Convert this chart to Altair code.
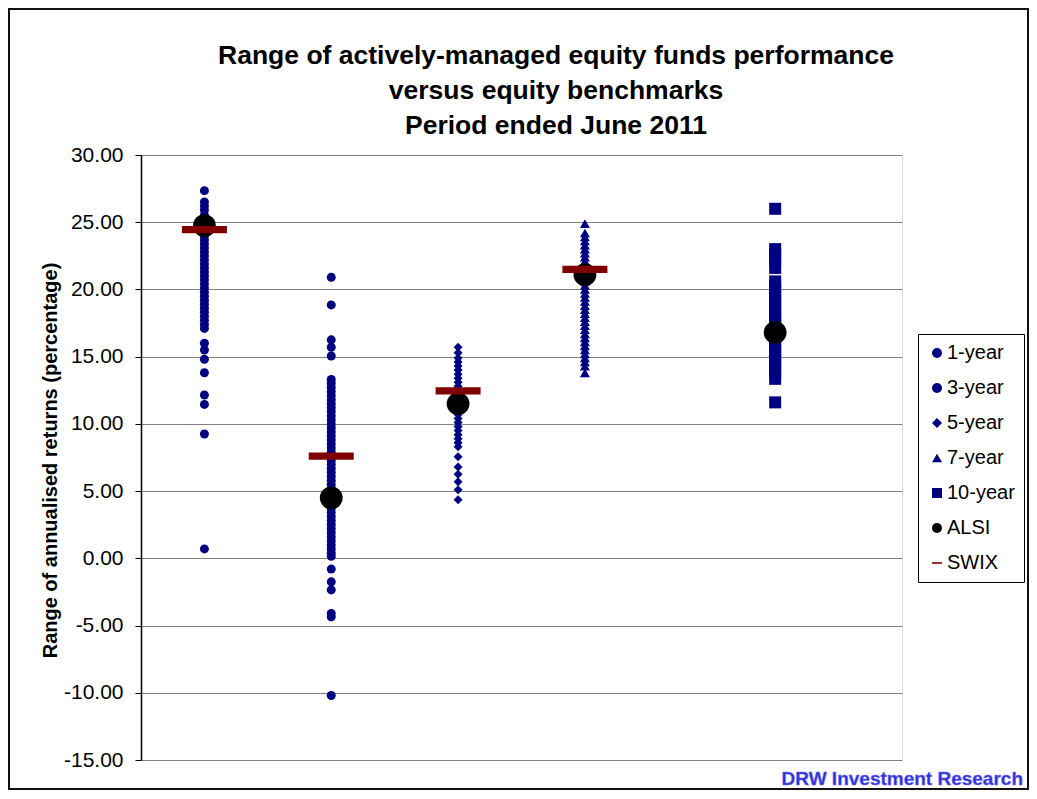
import altair as alt
import pandas as pd

# ---- data ----
series_names = ["1-year", "3-year", "5-year", "7-year", "10-year"]
x_positions = [1, 2, 3, 4, 5.5]

one_year = [27.35, 26.5, 26.2, 25.9, 25.5, 25.2, 24.9, 24.6, 24.3, 24.0, 23.7, 23.4,
            23.1, 22.8, 22.5, 22.2, 21.9, 21.6, 21.3, 21.0, 20.7, 20.4, 20.1, 19.8,
            19.5, 19.2, 18.9, 18.6, 18.3, 18.0, 17.7, 17.4, 17.1, 16.0, 15.5, 14.8,
            13.8, 12.15, 11.45, 9.25, 0.7]
three_year = [20.9, 18.85, 16.25, 15.7, 15.05, 13.3, 13.0, 12.7, 12.4, 12.1, 11.8,
              11.5, 11.2, 10.9, 10.6, 10.3, 10.0, 9.7, 9.4, 9.1, 8.8, 8.5, 8.2, 7.9,
              7.6, 7.3, 7.0, 6.7, 6.4, 6.1, 5.8, 5.5, 5.2, 4.9, 4.6, 4.3, 4.0, 3.7,
              3.4, 3.1, 2.8, 2.5, 2.2, 1.9, 1.6, 1.3, 1.0, 0.7, 0.4, 0.15, -0.8,
              -1.75, -2.35, -4.1, -4.35, -10.2]
five_year = [15.7, 15.3, 14.9, 14.6, 14.3, 14.0, 13.7, 13.4, 13.1, 12.8, 12.5, 12.2,
             11.9, 11.6, 11.3, 11.0, 10.7, 10.4, 10.1, 9.8, 9.5, 9.2, 8.9, 8.6, 8.3,
             7.55, 6.8, 6.25, 5.7, 5.1, 4.35]
seven_year = [24.9, 24.2, 23.9, 23.6, 23.3, 23.0, 22.7, 22.4, 22.1, 21.8, 21.5, 21.2,
              20.9, 20.6, 20.3, 20.0, 19.7, 19.4, 19.1, 18.8, 18.5, 18.2, 17.9, 17.6,
              17.3, 17.0, 16.7, 16.4, 16.1, 15.8, 15.5, 15.2, 14.9, 14.6, 14.3, 13.8]
ten_year = [26.0, 23.0, 22.6, 22.2, 21.6, 20.6, 20.2, 19.8, 19.4, 19.0, 18.6, 18.2,
            17.8, 17.4, 17.0, 16.6, 16.2, 15.8, 15.4, 15.0, 14.6, 14.2, 13.8, 13.35,
            11.6]

alsi = [24.75, 4.5, 11.5, 21.1, 16.8]      # one per period
swix = [24.45, 7.6, 12.45, 21.5]           # no 10-year value

legend_order = series_names + ["ALSI", "SWIX"]
marker_sizes = {"1-year": 81, "3-year": 81, "5-year": 81, "7-year": 100,
                "10-year": 144, "ALSI": 520, "SWIX": 2025}

# ---- table ----
rows = []
for name, xp, vals in zip(series_names, x_positions,
                          [one_year, three_year, five_year, seven_year, ten_year]):
    rows += [{"series": name, "x": xp, "value": v} for v in vals]
rows += [{"series": "ALSI", "x": xp, "value": v} for xp, v in zip(x_positions, alsi)]
rows += [{"series": "SWIX", "x": xp, "value": v} for xp, v in zip(x_positions, swix)]
df = pd.DataFrame(rows)
df["sz"] = df["series"].map(marker_sizes)

FONT = "Liberation Sans"
NAVY = "#000080"

shape_scale = alt.Scale(domain=legend_order,
                        range=["circle", "circle", "diamond", "triangle-up", "square",
                               "circle", "M-1,-0.16H1V0.16H-1Z"])
color_scale = alt.Scale(domain=legend_order,
                        range=[NAVY, NAVY, NAVY, NAVY, NAVY, "#000000", "#800000"])

legend = alt.Legend(
    title=None, orient="none", legendX=777, legendY=179,
    labelFont=FONT, labelFontSize=20, labelColor="black", labelOffset=0,
    strokeColor="black", fillColor="white", padding=9, rowPadding=15,
    symbolSize=100, symbolStrokeWidth=0,
)

points = alt.Chart(df).mark_point(filled=True, opacity=1, strokeWidth=0).encode(
    x=alt.X("x:Q", scale=alt.Scale(domain=[0.5, 6.5], nice=False, zero=False), axis=None),
    y=alt.Y("value:Q", scale=alt.Scale(domain=[-15, 30], nice=False, zero=False),
            axis=alt.Axis(
                values=list(range(-15, 31, 5)),
                labelExpr="(datum.value < 0 ? '-' : '') + format(abs(datum.value), '.2f')",
                labelFont=FONT, labelFontSize=21, labelColor="black", labelPadding=12,
                tickSize=6, tickColor="black", domainColor="black", domainWidth=1.5,
                grid=True, gridColor="#808080", gridWidth=1,
                title="Range of annualised returns (percentage)",
                titleFont=FONT, titleFontSize=20, titleFontWeight="bold",
                titleColor="black", titleX=-91, titleY=305,
                titleAlign="center", titleBaseline="middle", titleAngle=270)),
    shape=alt.Shape("series:N", scale=shape_scale, legend=legend),
    color=alt.Color("series:N", scale=color_scale, legend=legend),
    size=alt.Size("sz:Q", scale=None),
)

frame = alt.Chart(pd.DataFrame({"k": [0]})).mark_rect(
    fillOpacity=0, stroke="#111111", strokeWidth=2
).encode(x=alt.value(-132), x2=alt.value(887), y=alt.value(-146), y2=alt.value(634))

watermark = alt.Chart(pd.DataFrame({"t": ["DRW Investment Research"]})).mark_text(
    font=FONT, fontSize=19, fontWeight="bold", color="#3030cc",
    align="right", baseline="alphabetic", stroke="#7070ff", strokeWidth=0.5
).encode(text="t:N", x=alt.value(882), y=alt.value(630))

chart = alt.layer(points, frame, watermark).properties(
    width=761, height=605,
    autosize=alt.AutoSizeParams(type="none"),
    padding={"left": 133, "top": 147, "right": 127, "bottom": 30},
    title=alt.Title(
        ["Range of actively-managed equity funds performance",
         "versus equity benchmarks", "Period ended June 2011"],
        font=FONT, fontSize=26.5, fontWeight="bold", color="black",
        anchor="middle", frame="group", dx=34.5, dy=139, offset=8, lineHeight=35),
).configure_view(stroke="#808080", strokeWidth=1).configure(background="white")

chart.save("out.html", embed_options={"renderer": "svg", "actions": False})
